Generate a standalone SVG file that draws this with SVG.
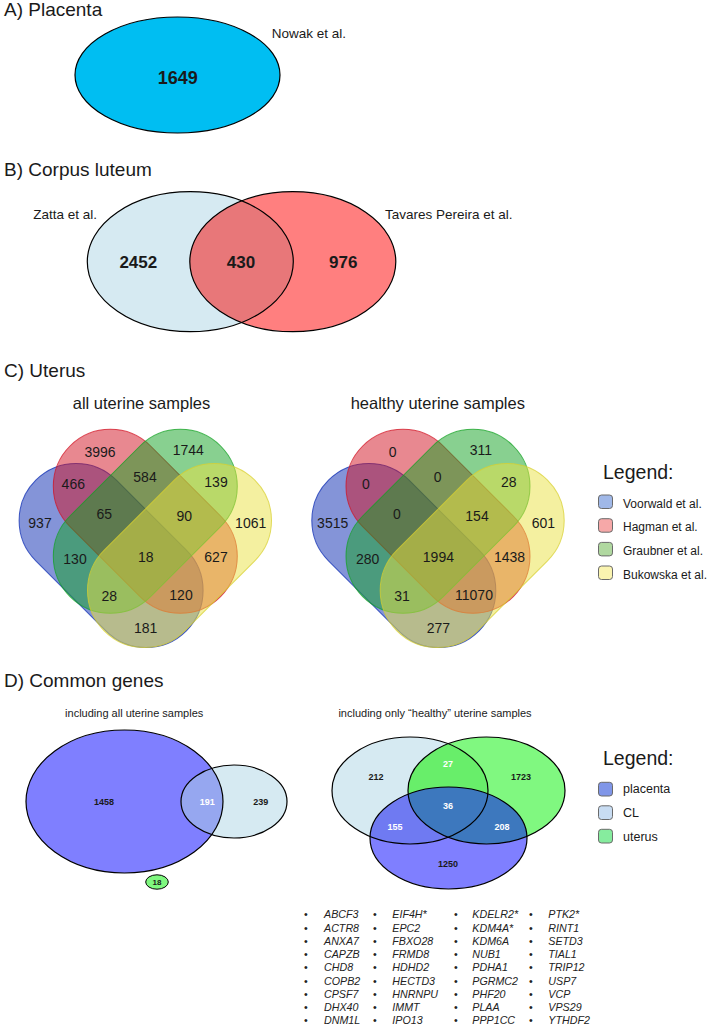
<svg xmlns="http://www.w3.org/2000/svg" xmlns:xlink="http://www.w3.org/1999/xlink" width="709" height="1025" viewBox="0 0 709 1025">
<style>
text{font-family:"Liberation Sans",Arial,Helvetica,sans-serif;fill:#1a1a1a}
.title{font-size:19px}
.lab{font-size:13.5px}
.big{font-size:17px;font-weight:bold;text-anchor:middle}
.vn{font-size:14px;text-anchor:middle}
.sub{font-size:16.5px;text-anchor:middle}
.sub2{font-size:11px;text-anchor:middle}
.dn{font-size:9px;font-weight:bold;text-anchor:middle}
.w{fill:#fff}
.leg{font-size:19.5px}
.li{font-size:12px}
.li2{font-size:12.5px}
.gene{font-size:10.7px;font-style:italic;fill:#222}
.bul{font-size:10.7px;fill:#222}
.cb{fill:#0929B1;fill-opacity:.5;stroke:#0929B1;stroke-opacity:.75;stroke-width:1}
.cr{fill:#D11121;fill-opacity:.5;stroke:#D11121;stroke-opacity:.75;stroke-width:1}
.cg{fill:#11A121;fill-opacity:.5;stroke:#11A121;stroke-opacity:.75;stroke-width:1}
.cy{fill:#E9E141;fill-opacity:.5;stroke:#D8D030;stroke-opacity:.75;stroke-width:1}
.ol{fill:none;stroke:#000;stroke-width:1.2}
.sq{stroke:#6a6a6a;stroke-width:1}
</style>
<defs>
<rect id="cap" x="-106.5" y="-57" width="213" height="114" rx="57"/>
<clipPath id="clipZ"><ellipse cx="190.3" cy="261.7" rx="103" ry="70"/></clipPath>
<clipPath id="clipBig"><ellipse cx="124.5" cy="801.5" rx="98.5" ry="71.5"/></clipPath>
<clipPath id="clipCL"><ellipse cx="410" cy="790.5" rx="78" ry="53.5"/></clipPath>
<clipPath id="clipUt"><ellipse cx="486.5" cy="790.5" rx="78.5" ry="53.5"/></clipPath>
</defs>
<rect width="709" height="1025" fill="#fff"/>

<g id="panelA">
<text class="title" x="4" y="16">A) Placenta</text>
<g id="nowak">
<ellipse cx="177.5" cy="75" rx="102.5" ry="58" fill="#00BEF2" stroke="#000" stroke-width="1.2"/>
<text x="177.8" y="83.5" style="font-size:18px;font-weight:bold;text-anchor:middle">1649</text>
<text class="lab" x="271.7" y="38.3">Nowak et al.</text>
</g>
</g>

<g id="panelB">
<text class="title" x="4" y="176">B) Corpus luteum</text>
<g id="zatta">
<ellipse cx="190.3" cy="261.7" rx="103" ry="70" fill="#D6EAF2"/>
<text class="lab" x="33.3" y="219.3">Zatta et al.</text>
</g>
<g id="tavares">
<ellipse cx="292.8" cy="261.7" rx="103" ry="70" fill="#FF7F7F"/>
<ellipse cx="292.8" cy="261.7" rx="103" ry="70" fill="#E87779" clip-path="url(#clipZ)"/>
<text class="lab" x="385" y="219.3">Tavares Pereira et al.</text>
</g>
<ellipse class="ol" cx="190.3" cy="261.7" rx="103" ry="70"/>
<ellipse class="ol" cx="292.8" cy="261.7" rx="103" ry="70"/>
<text class="big" x="138.3" y="268.3">2452</text>
<text class="big" x="241" y="268.3">430</text>
<text class="big" x="343.3" y="268.3">976</text>
</g>

<g id="panelC">
<text class="title" x="4" y="376.7">C) Uterus</text>
<g id="vennAll">
<text class="sub" x="141.5" y="408.5">all uterine samples</text>
<use xlink:href="#cap" class="cb" transform="translate(111.1,555.5) rotate(45)"/>
<use xlink:href="#cap" class="cr" transform="translate(145.3,521.3) rotate(45)"/>
<use xlink:href="#cap" class="cg" transform="translate(145.3,521.3) rotate(-45)"/>
<use xlink:href="#cap" class="cy" transform="translate(179.5,555.5) rotate(-45)"/>
<text class="vn" x="100" y="456.7">3996</text>
<text class="vn" x="188.3" y="455">1744</text>
<text class="vn" x="73.3" y="489">466</text>
<text class="vn" x="145" y="481.7">584</text>
<text class="vn" x="216" y="486.7">139</text>
<text class="vn" x="40" y="528.3">937</text>
<text class="vn" x="104.3" y="519.3">65</text>
<text class="vn" x="184.3" y="520.5">90</text>
<text class="vn" x="250.7" y="528.3">1061</text>
<text class="vn" x="75" y="564">130</text>
<text class="vn" x="145.7" y="561.7">18</text>
<text class="vn" x="216" y="561.5">627</text>
<text class="vn" x="109.3" y="600.7">28</text>
<text class="vn" x="181" y="599.7">120</text>
<text class="vn" x="145.7" y="632.7">181</text>
</g>
<g id="vennHealthy">
<text class="sub" x="437.8" y="408.5">healthy uterine samples</text>
<use xlink:href="#cap" class="cb" transform="translate(403.8,555.5) rotate(45)"/>
<use xlink:href="#cap" class="cr" transform="translate(438,521.3) rotate(45)"/>
<use xlink:href="#cap" class="cg" transform="translate(438,521.3) rotate(-45)"/>
<use xlink:href="#cap" class="cy" transform="translate(472.2,555.5) rotate(-45)"/>
<text class="vn" x="392.7" y="456.7">0</text>
<text class="vn" x="481" y="455">311</text>
<text class="vn" x="366" y="489">0</text>
<text class="vn" x="437.7" y="481.7">0</text>
<text class="vn" x="508.7" y="486.7">28</text>
<text class="vn" x="332.7" y="528.3">3515</text>
<text class="vn" x="397" y="519.3">0</text>
<text class="vn" x="477" y="520.5">154</text>
<text class="vn" x="543.4" y="528.3">601</text>
<text class="vn" x="367.7" y="564">280</text>
<text class="vn" x="438.4" y="561.7">1994</text>
<text class="vn" x="509.5" y="561.5">1438</text>
<text class="vn" x="402" y="600.7">31</text>
<text class="vn" x="474" y="599.7">11070</text>
<text class="vn" x="438.4" y="632.7">277</text>
</g>
<g id="legendC">
<text class="leg" x="603" y="479">Legend:</text>
<rect class="sq" x="598.5" y="495" width="14" height="13.5" rx="3" fill="#A0B8E8"/>
<text class="li" x="623" y="507.7">Voorwald et al.</text>
<rect class="sq" x="598.5" y="518.7" width="14" height="13.5" rx="3" fill="#F6A8A8"/>
<text class="li" x="623" y="531.3">Hagman et al.</text>
<rect class="sq" x="598.5" y="542.4" width="14" height="13.5" rx="3" fill="#B0D8A0"/>
<text class="li" x="623" y="555">Graubner et al.</text>
<rect class="sq" x="598.5" y="566" width="14" height="13.5" rx="3" fill="#FAF4B0"/>
<text class="li" x="623" y="578.6">Bukowska et al.</text>
</g>
</g>

<g id="panelD">
<text class="title" x="4" y="687.3">D) Common genes</text>
<g id="vennDAll">
<text class="sub2" x="134.2" y="716.7">including all uterine samples</text>
<g id="placentaA">
<ellipse cx="124.5" cy="801.5" rx="98.5" ry="71.5" fill="#7F7FFF"/>
</g>
<g id="clA">
<ellipse cx="234" cy="801.5" rx="53" ry="36.5" fill="#D6EAF2"/>
<ellipse cx="234" cy="801.5" rx="53" ry="36.5" fill="#96A7F0" clip-path="url(#clipBig)"/>
</g>
<ellipse class="ol" cx="124.5" cy="801.5" rx="98.5" ry="71.5"/>
<ellipse class="ol" cx="234" cy="801.5" rx="53" ry="36.5"/>
<g id="uterusA">
<ellipse cx="157" cy="882" rx="11.3" ry="7.2" fill="#7FF77F" stroke="#000" stroke-width="1"/>
<text class="dn" x="157" y="885" style="font-size:8px">18</text>
</g>
<text class="dn" x="104" y="805">1458</text>
<text class="dn w" x="207.3" y="805">191</text>
<text class="dn" x="260.7" y="805">239</text>
</g>
<g id="vennDHealthy">
<text class="sub2" x="435" y="716.7">including only “healthy” uterine samples</text>
<ellipse cx="410" cy="790.5" rx="78" ry="53.5" fill="#D6EAF2"/>
<ellipse cx="486.5" cy="790.5" rx="78.5" ry="53.5" fill="#80F880"/>
<ellipse cx="486.5" cy="790.5" rx="78.5" ry="53.5" fill="#68EE6A" clip-path="url(#clipCL)"/>
<ellipse cx="448.5" cy="838" rx="78.5" ry="51" fill="#7F7FFF"/>
<ellipse cx="448.5" cy="838" rx="78.5" ry="51" fill="#6F7AF2" clip-path="url(#clipCL)"/>
<ellipse cx="448.5" cy="838" rx="78.5" ry="51" fill="#3D78BE" clip-path="url(#clipUt)"/>
<ellipse class="ol" cx="410" cy="790.5" rx="78" ry="53.5"/>
<ellipse class="ol" cx="486.5" cy="790.5" rx="78.5" ry="53.5"/>
<ellipse class="ol" cx="448.5" cy="838" rx="78.5" ry="51"/>
<text class="dn" x="376" y="780">212</text>
<text class="dn w" x="448" y="767">27</text>
<text class="dn" x="521" y="780">1723</text>
<text class="dn w" x="448" y="809">36</text>
<text class="dn w" x="395" y="830">155</text>
<text class="dn w" x="502" y="830">208</text>
<text class="dn" x="448" y="867">1250</text>
</g>
<g id="legendD">
<text class="leg" x="603" y="765">Legend:</text>
<rect class="sq" x="598.5" y="782.3" width="14" height="13.7" rx="3" fill="#8096E8"/>
<text class="li2" x="623" y="793">placenta</text>
<rect class="sq" x="598.5" y="805.8" width="14" height="13.7" rx="3" fill="#C8DCF2"/>
<text class="li2" x="623" y="816.7">CL</text>
<rect class="sq" x="598.5" y="829.3" width="14" height="13.7" rx="3" fill="#86EC9E"/>
<text class="li2" x="623" y="840.5">uterus</text>
</g>
<g id="geneList">
<g>
<text class="bul" x="304" y="918.2">•</text><text class="bul" x="304" y="931.5">•</text><text class="bul" x="304" y="944.7">•</text><text class="bul" x="304" y="958">•</text><text class="bul" x="304" y="971.2">•</text><text class="bul" x="304" y="984.5">•</text><text class="bul" x="304" y="997.7">•</text><text class="bul" x="304" y="1011">•</text><text class="bul" x="304" y="1024.2">•</text>
<text class="bul" x="373" y="918.2">•</text><text class="bul" x="373" y="931.5">•</text><text class="bul" x="373" y="944.7">•</text><text class="bul" x="373" y="958">•</text><text class="bul" x="373" y="971.2">•</text><text class="bul" x="373" y="984.5">•</text><text class="bul" x="373" y="997.7">•</text><text class="bul" x="373" y="1011">•</text><text class="bul" x="373" y="1024.2">•</text>
<text class="bul" x="454" y="918.2">•</text><text class="bul" x="454" y="931.5">•</text><text class="bul" x="454" y="944.7">•</text><text class="bul" x="454" y="958">•</text><text class="bul" x="454" y="971.2">•</text><text class="bul" x="454" y="984.5">•</text><text class="bul" x="454" y="997.7">•</text><text class="bul" x="454" y="1011">•</text><text class="bul" x="454" y="1024.2">•</text>
<text class="bul" x="529" y="918.2">•</text><text class="bul" x="529" y="931.5">•</text><text class="bul" x="529" y="944.7">•</text><text class="bul" x="529" y="958">•</text><text class="bul" x="529" y="971.2">•</text><text class="bul" x="529" y="984.5">•</text><text class="bul" x="529" y="997.7">•</text><text class="bul" x="529" y="1011">•</text><text class="bul" x="529" y="1024.2">•</text>
</g>
<text class="gene" x="324" y="918.2">ABCF3</text>
<text class="gene" x="324" y="931.5">ACTR8</text>
<text class="gene" x="324" y="944.7">ANXA7</text>
<text class="gene" x="324" y="958">CAPZB</text>
<text class="gene" x="324" y="971.2">CHD8</text>
<text class="gene" x="324" y="984.5">COPB2</text>
<text class="gene" x="324" y="997.7">CPSF7</text>
<text class="gene" x="324" y="1011">DHX40</text>
<text class="gene" x="324" y="1024.2">DNM1L</text>
<text class="gene" x="392.3" y="918.2">EIF4H*</text>
<text class="gene" x="392.3" y="931.5">EPC2</text>
<text class="gene" x="392.3" y="944.7">FBXO28</text>
<text class="gene" x="392.3" y="958">FRMD8</text>
<text class="gene" x="392.3" y="971.2">HDHD2</text>
<text class="gene" x="392.3" y="984.5">HECTD3</text>
<text class="gene" x="392.3" y="997.7">HNRNPU</text>
<text class="gene" x="392.3" y="1011">IMMT</text>
<text class="gene" x="392.3" y="1024.2">IPO13</text>
<text class="gene" x="472.3" y="918.2">KDELR2*</text>
<text class="gene" x="472.3" y="931.5">KDM4A*</text>
<text class="gene" x="472.3" y="944.7">KDM6A</text>
<text class="gene" x="472.3" y="958">NUB1</text>
<text class="gene" x="472.3" y="971.2">PDHA1</text>
<text class="gene" x="472.3" y="984.5">PGRMC2</text>
<text class="gene" x="472.3" y="997.7">PHF20</text>
<text class="gene" x="472.3" y="1011">PLAA</text>
<text class="gene" x="472.3" y="1024.2">PPP1CC</text>
<text class="gene" x="548.3" y="918.2">PTK2*</text>
<text class="gene" x="548.3" y="931.5">RINT1</text>
<text class="gene" x="548.3" y="944.7">SETD3</text>
<text class="gene" x="548.3" y="958">TIAL1</text>
<text class="gene" x="548.3" y="971.2">TRIP12</text>
<text class="gene" x="548.3" y="984.5">USP7</text>
<text class="gene" x="548.3" y="997.7">VCP</text>
<text class="gene" x="548.3" y="1011">VPS29</text>
<text class="gene" x="548.3" y="1024.2">YTHDF2</text>
</g>
</g>
<g id="connectors"/>
</svg>
